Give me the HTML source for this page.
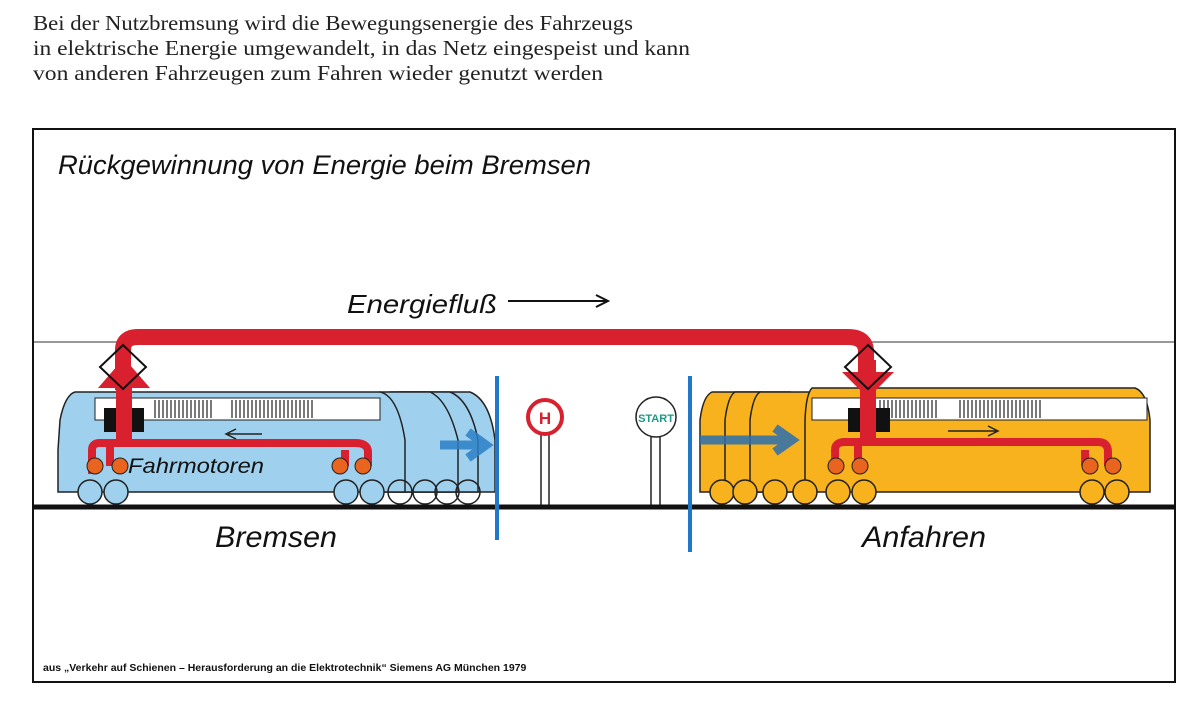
<!DOCTYPE html>
<html><head><meta charset="utf-8"><style>
html,body{margin:0;padding:0;background:#fff;width:1200px;height:706px;overflow:hidden}
svg{display:block}
.s{font-family:"Liberation Serif",serif;font-size:21px;fill:#222}
.h{font-family:"Liberation Sans",sans-serif;font-style:italic;fill:#111}
</style></head><body>
<svg width="1200" height="706" viewBox="0 0 1200 706" xmlns="http://www.w3.org/2000/svg">
<text class="s" x="33" y="30" textLength="600" lengthAdjust="spacingAndGlyphs">Bei der Nutzbremsung wird die Bewegungsenergie des Fahrzeugs</text>
<text class="s" x="33" y="55" textLength="657" lengthAdjust="spacingAndGlyphs">in elektrische Energie umgewandelt, in das Netz eingespeist und kann</text>
<text class="s" x="33" y="80" textLength="570" lengthAdjust="spacingAndGlyphs">von anderen Fahrzeugen zum Fahren wieder genutzt werden</text>
<rect x="33" y="129" width="1142" height="553" fill="none" stroke="#111" stroke-width="2"/>
<text class="h" x="58" y="174" font-size="27" textLength="533" lengthAdjust="spacingAndGlyphs">Rückgewinnung von Energie beim Bremsen</text>
<text class="h" x="347" y="313" font-size="26" textLength="150" lengthAdjust="spacingAndGlyphs">Energiefluß</text>
<line x1="508" y1="301" x2="606" y2="301" stroke="#111" stroke-width="2"/>
<path d="M596 295 L608 301 L596 307" fill="none" stroke="#111" stroke-width="2"/>
<line x1="34" y1="342" x2="1174" y2="342" stroke="#777" stroke-width="1.5"/>
<path d="M123 390 L123 350 Q123 337 138 337 L848 337 Q866 337 866 352 L866 390" fill="none" stroke="#d9202e" stroke-width="16"/>
<g fill="#9fd0ee" stroke="#222" stroke-width="1.5">
<path d="M400 392 L470 392 Q490 400 495 440 L495 492 L400 492 Z"/>
<path d="M390 392 L450 392 Q470 400 478 440 L478 492 L390 492 Z"/>
<path d="M380 392 L430 392 Q448 400 458 440 L458 492 L380 492 Z"/>
<path d="M75 392 L380 392 Q398 396 405 440 L405 492 L58 492 L58 450 L60 420 Q65 395 75 392 Z"/>
</g>
<rect x="95" y="398" width="285" height="22" fill="#fff" stroke="#222" stroke-width="1"/>
<g stroke="#222" stroke-width="1.2">
<path d="M155 400v18M159 400v18M163 400v18M167 400v18M171 400v18M175 400v18M179 400v18M183 400v18M187 400v18M191 400v18M195 400v18M199 400v18M203 400v18M207 400v18M211 400v18M232 400v18M236 400v18M240 400v18M244 400v18M248 400v18M252 400v18M256 400v18M260 400v18M264 400v18M268 400v18M272 400v18M276 400v18M280 400v18M284 400v18M288 400v18M292 400v18M296 400v18M300 400v18M304 400v18M308 400v18M312 400v18"/>
</g>
<path d="M440 445 L485 445 M468 432 L486 445 L468 458" fill="none" stroke="#2a7fc6" stroke-width="9" opacity="0.85"/>
<rect x="104" y="408" width="40" height="24" fill="#111"/>
<rect x="116" y="370" width="16" height="75" fill="#d9202e"/>
<path d="M98 388 L124 358 L150 388 Z" fill="#d9202e"/>
<path d="M92 474 L92 450 Q92 443 100 443 L355 443 Q368 443 368 452 L368 466" fill="none" stroke="#d9202e" stroke-width="8"/>
<path d="M110 443 L110 466" stroke="#d9202e" stroke-width="8"/>
<path d="M345 450 L345 466" stroke="#d9202e" stroke-width="8"/>
<path d="M262 434 L228 434 M236 429 L226 434 L236 439" fill="none" stroke="#222" stroke-width="1.5"/>
<path d="M123 345 L146 367 L123 389 L100 367 Z" fill="none" stroke="#111" stroke-width="2"/>
<g fill="none" stroke="#222" stroke-width="1.5">
<circle cx="90" cy="492" r="12" fill="#9fd0ee"/><circle cx="116" cy="492" r="12" fill="#9fd0ee"/>
<circle cx="346" cy="492" r="12" fill="#9fd0ee"/><circle cx="372" cy="492" r="12" fill="#9fd0ee"/>
<circle cx="400" cy="492" r="12"/><circle cx="425" cy="492" r="12"/><circle cx="447" cy="492" r="12"/><circle cx="468" cy="492" r="12"/>
</g>
<g fill="#e8641f" stroke="#222" stroke-width="1"><circle cx="95" cy="466" r="8"/><circle cx="120" cy="466" r="8"/><circle cx="340" cy="466" r="8"/><circle cx="363" cy="466" r="8"/></g>
<text class="h" x="128" y="473" font-size="21" textLength="136" lengthAdjust="spacingAndGlyphs" font-style="normal">Fahrmotoren</text>
<g fill="#f7b21e" stroke="#222" stroke-width="1.5">
<path d="M712 392 L760 392 L760 492 L700 492 L700 420 Q703 396 712 392 Z"/>
<path d="M735 392 L790 392 L790 492 L725 492 L725 420 Q728 396 735 392 Z"/>
<path d="M760 392 L810 392 L810 492 L750 492 L750 420 Q753 396 760 392 Z"/>
<path d="M812 388 L1135 388 Q1147 392 1150 420 L1150 492 L805 492 L805 420 Q806 394 812 388 Z"/>
</g>
<rect x="812" y="398" width="335" height="22" fill="#fff" stroke="#222" stroke-width="1"/>
<g stroke="#222" stroke-width="1.2">
<path d="M880 400v18M884 400v18M888 400v18M892 400v18M896 400v18M900 400v18M904 400v18M908 400v18M912 400v18M916 400v18M920 400v18M924 400v18M928 400v18M932 400v18M936 400v18M960 400v18M964 400v18M968 400v18M972 400v18M976 400v18M980 400v18M984 400v18M988 400v18M992 400v18M996 400v18M1000 400v18M1004 400v18M1008 400v18M1012 400v18M1016 400v18M1020 400v18M1024 400v18M1028 400v18M1032 400v18M1036 400v18M1040 400v18"/>
</g>
<path d="M700 440 L790 440 M775 428 L792 440 L775 452" fill="none" stroke="#2a6fb0" stroke-width="9" opacity="0.85"/>
<rect x="848" y="408" width="42" height="24" fill="#111"/>
<rect x="860" y="360" width="16" height="85" fill="#d9202e"/>
<path d="M842 372 L868 398 L894 372 Z" fill="#d9202e"/>
<path d="M835 466 L835 450 Q835 442 845 442 L1098 442 Q1108 442 1108 452 L1108 466" fill="none" stroke="#d9202e" stroke-width="8"/>
<path d="M858 442 L858 466 M1085 450 L1085 466" stroke="#d9202e" stroke-width="8"/>
<path d="M948 431 L996 431 M988 426 L998 431 L988 436" fill="none" stroke="#222" stroke-width="1.5"/>
<path d="M868 345 L891 367 L868 389 L845 367 Z" fill="none" stroke="#111" stroke-width="2"/>
<g fill="#f7b21e" stroke="#222" stroke-width="1.5">
<circle cx="722" cy="492" r="12"/><circle cx="745" cy="492" r="12"/><circle cx="775" cy="492" r="12"/><circle cx="805" cy="492" r="12"/>
<circle cx="838" cy="492" r="12"/><circle cx="864" cy="492" r="12"/><circle cx="1092" cy="492" r="12"/><circle cx="1117" cy="492" r="12"/>
</g>
<g fill="#e8641f" stroke="#222" stroke-width="1"><circle cx="836" cy="466" r="8"/><circle cx="860" cy="466" r="8"/><circle cx="1090" cy="466" r="8"/><circle cx="1113" cy="466" r="8"/></g>
<path d="M541 430 V505 M549 430 V505" stroke="#222" stroke-width="1.5"/>
<circle cx="545" cy="417" r="17" fill="#fff" stroke="#d9202e" stroke-width="4"/>
<text x="545" y="424" font-family="Liberation Sans" font-weight="bold" font-size="17" fill="#d9202e" text-anchor="middle">H</text>
<path d="M651 436 V505 M660 436 V505" stroke="#222" stroke-width="1.5"/>
<circle cx="656" cy="417" r="20" fill="#fff" stroke="#222" stroke-width="1.5"/>
<text x="656" y="422" font-family="Liberation Sans" font-weight="bold" font-size="11" fill="#1a9a86" text-anchor="middle">START</text>
<line x1="34" y1="507" x2="1175" y2="507" stroke="#111" stroke-width="5"/>
<line x1="497" y1="376" x2="497" y2="540" stroke="#1f78c8" stroke-width="4"/>
<line x1="690" y1="376" x2="690" y2="552" stroke="#1f78c8" stroke-width="4"/>
<text class="h" x="215" y="547" font-size="30" font-style="normal" textLength="122" lengthAdjust="spacingAndGlyphs">Bremsen</text>
<text class="h" x="862" y="547" font-size="30" font-style="normal" textLength="124" lengthAdjust="spacingAndGlyphs">Anfahren</text>
<text x="43" y="671" font-family="Liberation Sans" font-weight="bold" font-size="10.5" fill="#111">aus „Verkehr auf Schienen – Herausforderung an die Elektrotechnik“ Siemens AG München 1979</text>
</svg>
</body></html>
